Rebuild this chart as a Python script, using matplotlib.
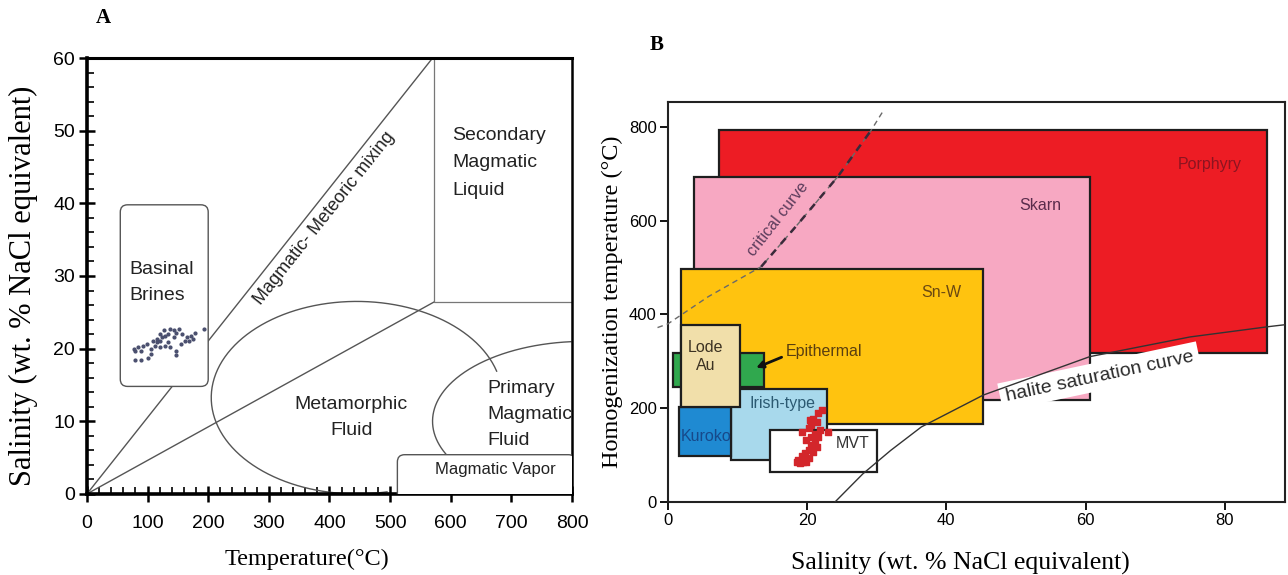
import numpy as np
import matplotlib
matplotlib.use("Agg")
import matplotlib.pyplot as plt
from matplotlib.patches import Rectangle, FancyBboxPatch
from matplotlib.ticker import MultipleLocator

plt.rcParams['font.family'] = ['Liberation Sans', 'DejaVu Sans']
SERIF = ['Liberation Serif', 'DejaVu Serif']

# ---------------- Panel A data ----------------
temp_ticks = [0, 100, 200, 300, 400, 500, 600, 700, 800]
sal_ticks = [0, 10, 20, 30, 40, 50, 60]

# basinal brine inclusions (temperature, salinity)
brine_temp = [80, 89.5, 101, 80, 84.5, 92.7, 99, 105, 111.6, 114.8, 121, 124, 128.6,
              133.7, 127.4, 121, 114.8, 108.4, 136.8, 143, 147.5, 152.6, 157.6, 165,
              168, 171.5, 174.7, 177.8, 143, 133.7, 128.6, 136.8, 146.3, 146.3, 155.7,
              162, 121, 105, 89.5, 77, 192.3]
brine_sal = [18.4, 18.4, 18.7, 19.7, 20.2, 20.4, 20.6, 19.9, 20.4, 20.9, 21.1, 21.6, 21.8,
             22.0, 22.5, 22.0, 21.3, 21.1, 22.7, 22.5, 22.2, 22.7, 22.0, 21.6,
             21.1, 21.8, 21.3, 22.2, 21.6, 20.9, 20.4, 20.2, 19.7, 19.1, 20.6,
             21.1, 20.2, 19.3, 19.7, 20.0, 22.7]

# field boundaries
mix_upper_t, mix_upper_s = [0, 570], [0, 60]
mix_lower_t, mix_lower_s = [0, 572], [0, 26.4]
liquid_edge_t, liquid_edge_s = [572, 572, 800], [60, 26.4, 26.4]

# elliptical field outlines: centre, semi-axes, start/end angle (deg)
meta_centre, meta_axes, meta_angles = (445, 13.25), (240, 13.25), (16, 282)
primary_centre, primary_axes, primary_angles = (820, 10.0), (250, 11.0), (95, 205)

brine_box = (55, 14.8, 200, 39.8)       # x0, y0, x1, y1
vapor_box = (512, -2.0, 806, 5.4)

# ---------------- Panel B data ----------------
sal_ticks_b = [0, 20, 40, 60, 80]
th_ticks_b = [0, 200, 400, 600, 800]

deposit_names = ['Porphyry', 'Skarn', 'Sn-W', 'Epithermal', 'Irish-type', 'Kuroko', 'Lode Au', 'MVT']
deposit_sal0 = [7.4, 3.8, 1.9, 0.7, 9.0, 1.6, 1.9, 14.6]
deposit_sal1 = [86.1, 60.6, 45.3, 13.8, 22.9, 9.0, 10.4, 30.1]
deposit_th0 = [318, 218, 166, 245, 90, 99, 203, 63]
deposit_th1 = [793, 694, 498, 318, 241, 203, 378, 154]
deposit_colors = ['#ed1c24', '#f7a8c2', '#ffc30f', '#30a84e', '#a8d9ec', '#1f8ad2', '#f1dfaa', '#ffffff']

label_text = ['Porphyry', 'Skarn', 'Sn-W', 'Lode\nAu', 'Irish-type', 'Kuroko', 'MVT']
label_sal = [77.8, 53.5, 39.3, 5.4, 16.5, 1.9, 26.6]
label_th = [719, 633, 447, 310, 209, 139, 125]
label_colors = ['#8c1420', '#5a2c4c', '#6a4812', '#3c3222', '#2b5a72', '#17498a', '#333333']
label_ha = ['center', 'center', 'center', 'center', 'center', 'left', 'center']

# this study (MVT inclusions)
study_sal = [22.1, 21.6, 20.9, 20.4, 21.4, 20.6, 20.2, 19.2, 21.8, 23.0, 21.1, 20.6, 21.6,
             19.9, 21.1, 20.6, 21.4, 20.2, 20.9, 19.7, 19.2, 20.2, 18.7, 19.4, 18.5, 19.0, 19.9]
study_th = [196, 189, 178, 175, 171, 164, 157, 150, 154, 150, 146, 139, 139,
            132, 129, 122, 118, 111, 107, 104, 97, 93, 90, 86, 86, 83, 86]

crit_sal = [-1.5, 0, 5.8, 13.4, 18.8, 24.4, 29.2, 31.0]
crit_th = [372, 380, 438, 502, 595, 694, 793, 836]

halite_sal = [24.0, 28.0, 32.0, 36.4, 45.3, 60.6, 75.0, 86.3, 88.6]
halite_th = [0, 60, 110, 160, 228, 310, 352, 374, 378]

fig = plt.figure(figsize=(12.88, 5.75), dpi=100)

# ======================= Panel A =======================
ax = fig.add_axes([0.0675, 0.141, 0.3766, 0.758])
ax.set_xlim(0, 800)
ax.set_ylim(0, 60)
line_kw = dict(color='#555555', lw=1.0, zorder=2)
ax.plot(mix_upper_t, mix_upper_s, **line_kw)
ax.plot(mix_lower_t, mix_lower_s, **line_kw)
ax.plot(liquid_edge_t, liquid_edge_s, color='#777777', lw=0.9, zorder=2)

t = np.radians(np.linspace(meta_angles[0], meta_angles[1], 200))
ax.plot(meta_centre[0] + meta_axes[0] * np.cos(t), meta_centre[1] + meta_axes[1] * np.sin(t), **line_kw)
t = np.radians(np.linspace(primary_angles[0], primary_angles[1], 200))
ax.plot(primary_centre[0] + primary_axes[0] * np.cos(t),
        primary_centre[1] + primary_axes[1] * np.sin(t), **line_kw)

aspect = (60 / 0.758 / 5.75) / (800 / 0.3766 / 12.88)
for x0, y0, x1, y1 in [brine_box, vapor_box]:
    ax.add_patch(FancyBboxPatch((x0, y0), x1 - x0, y1 - y0,
                                boxstyle='round,pad=0,rounding_size=12',
                                mutation_aspect=aspect, fc='white', ec='#555555',
                                lw=1.0, zorder=3))
ax.scatter(brine_temp, brine_sal, s=4, color='#4a4f6e', zorder=4)

txt = dict(fontsize=14, color='#222222', zorder=5)
ax.text(70, 29.1, 'Basinal\nBrines', ha='left', va='center', linespacing=1.7, **txt)
ax.text(603, 45.6, 'Secondary\nMagmatic\nLiquid', ha='left', va='center', linespacing=1.8, **txt)
ax.text(436, 10.5, 'Metamorphic\nFluid', ha='center', va='center', linespacing=1.7, **txt)
ax.text(660, 10.9, 'Primary\nMagmatic\nFluid', ha='left', va='center', linespacing=1.7, **txt)
ax.text(674, 3.3, 'Magmatic Vapor', ha='center', va='center', fontsize=12, color='#222222', zorder=5)
ax.text(391, 37.9, 'Magmatic- Meteoric mixing', ha='center', va='center', fontsize=13,
        color='#222222', rotation=np.degrees(np.arctan2(60, 570)),
        transform_rotates_text=True, rotation_mode='anchor', zorder=5)

ax.set_xticks(temp_ticks)
ax.set_yticks(sal_ticks)
ax.xaxis.set_minor_locator(MultipleLocator(20))
ax.yaxis.set_minor_locator(MultipleLocator(2))
ax.tick_params(which='major', direction='inout', length=11, width=1.8, labelsize=14, pad=3)
ax.tick_params(axis='x', which='major', pad=10)
ax.tick_params(which='minor', direction='in', length=5, width=1.2)
for side, w in [('left', 2.6), ('bottom', 2.6), ('top', 2.2), ('right', 1.8)]:
    ax.spines[side].set_linewidth(w)
ax.set_xlabel('Temperature(°C)', family=SERIF, fontsize=17.5)
ax.xaxis.set_label_coords(0.454, -0.126)
ax.set_ylabel('Salinity (wt. % NaCl equivalent)', family=SERIF, fontsize=22)
ax.yaxis.set_label_coords(-0.101, 0.477)
fig.text(0.08, 0.969, 'A', family=SERIF, fontsize=15, fontweight='bold', ha='center', va='center')

# ======================= Panel B =======================
bx = fig.add_axes([0.5186, 0.127, 0.4788, 0.6963])
bx.set_xlim(0, 88.6)
bx.set_ylim(0, 854)

patches = {}
for i, name in enumerate(deposit_names):
    r = Rectangle((deposit_sal0[i], deposit_th0[i]), deposit_sal1[i] - deposit_sal0[i],
                  deposit_th1[i] - deposit_th0[i], fc=deposit_colors[i], ec='#1e1e1e',
                  lw=1.6, zorder=2 + i * 0.1)
    bx.add_patch(r)
    patches[name] = r

for i, lab in enumerate(label_text):
    tt = bx.text(label_sal[i], label_th[i], lab, ha=label_ha[i], va='center', fontsize=11.5,
                 color=label_colors[i], zorder=3.5 if lab != 'Kuroko' else 2.55)
    if lab == 'Kuroko':
        tt.set_clip_path(patches['Kuroko'])

bx.text(16.9, 320, 'Epithermal', ha='left', va='center', fontsize=11.5, color='#5a3f10', zorder=3.5)
bx.annotate('', xy=(12.3, 284), xytext=(16.7, 311),
            arrowprops=dict(arrowstyle='-|>', color='#111111', lw=2, mutation_scale=10), zorder=3.6)

# critical curve
bx.plot(crit_sal, crit_th, ls=(0, (4, 3)), color='#6a6a6a', lw=1.0, zorder=5, clip_on=False)
bx.plot(crit_sal[3:7], crit_th[3:7], ls=(0, (3, 3)), color='#3a2a3a', lw=1.8, zorder=5)
bx.text(15.8, 603, 'critical curve', rotation=52, ha='center', va='center', fontsize=11.5,
        color='#5c3c5c', zorder=6)

# halite saturation curve
bx.text(62.0, 268, 'halite saturation curve', rotation=12, ha='center', va='center', fontsize=14,
        color='#2a2a2a', zorder=4.5, bbox=dict(fc='white', ec='none', pad=4))
bx.plot(halite_sal, halite_th, color='#333333', lw=1.0, zorder=5)

bx.scatter(study_sal, study_th, marker='s', s=22, color='#d3262b', zorder=6)

bx.set_xticks(sal_ticks_b)
bx.set_yticks(th_ticks_b)
bx.tick_params(direction='out', length=6, width=1.3, labelsize=12, pad=2)
for s in bx.spines.values():
    s.set_linewidth(1.5)
    s.set_color('#222222')
bx.set_xlabel('Salinity (wt. % NaCl equivalent)', family=SERIF, fontsize=18.5)
bx.xaxis.set_label_coords(0.474, -0.125)
bx.set_ylabel('Homogenization temperature (°C)', family=SERIF, fontsize=17.5, labelpad=4)
fig.text(0.51, 0.922, 'B', family=SERIF, fontsize=15, fontweight='bold', ha='center', va='center')

fig.savefig('out.png', dpi=100)
